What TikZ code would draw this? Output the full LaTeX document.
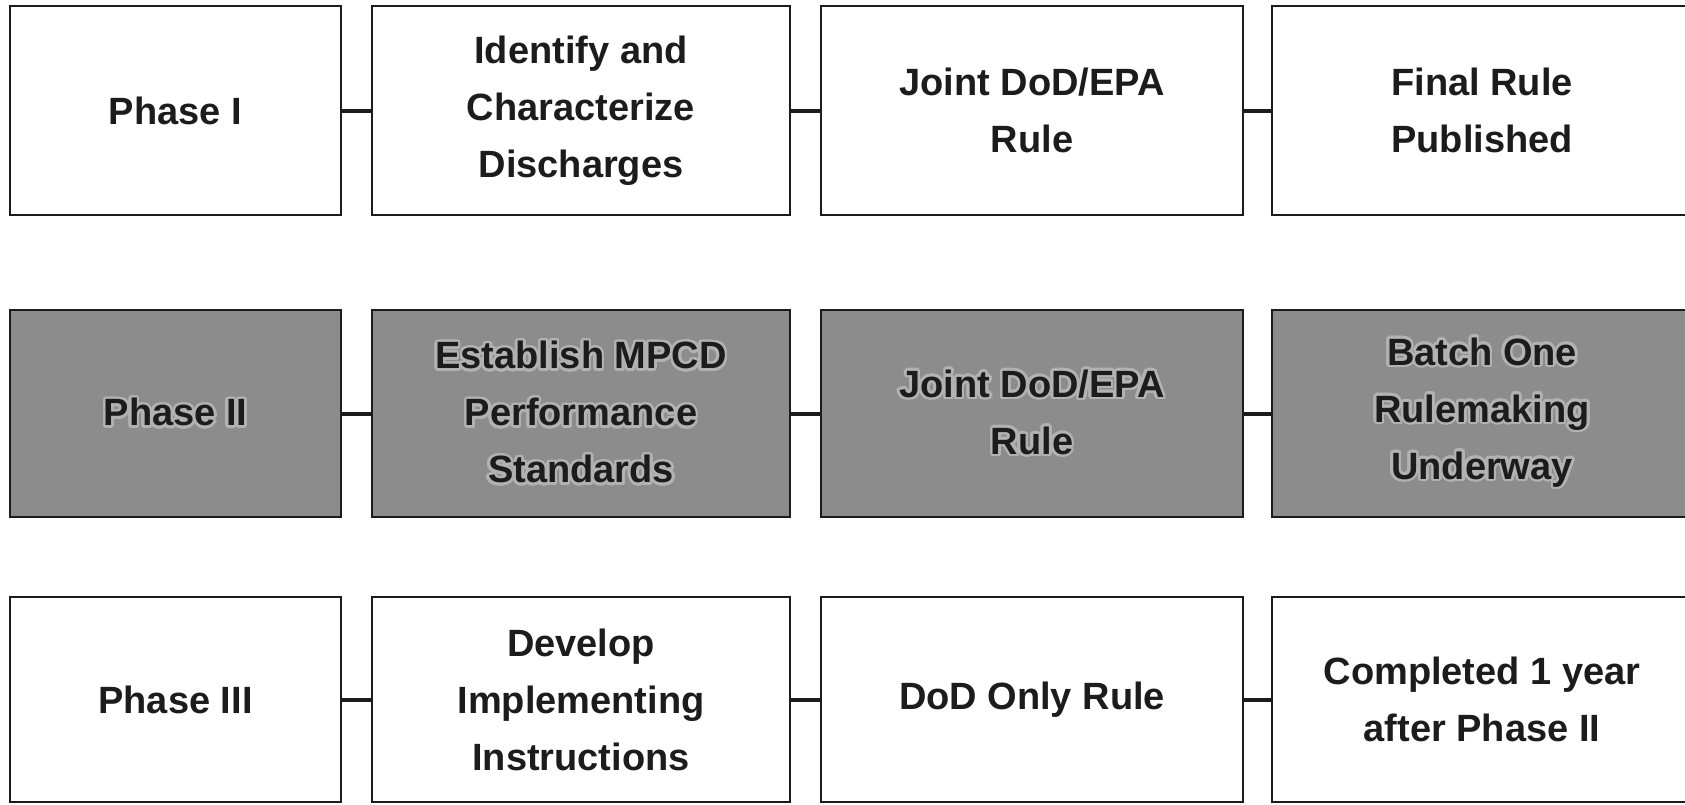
\documentclass[tikz,border=0pt]{standalone}
\usepackage{fontspec}
\setmainfont{Liberation Sans}
\usepackage[copies]{contour}
\contourlength{1.3pt}
\contournumber{24}
\definecolor{boxgray}{RGB}{140,140,140}
\definecolor{halo}{RGB}{178,178,178}
\definecolor{ink}{RGB}{28,28,28}
\begin{document}
\begin{tikzpicture}[x=0.5pt,y=-0.5pt,
  phbox/.style={draw=ink, line width=1.1pt, rectangle, outer sep=0pt, inner sep=0pt,
    align=center, text=ink, font=\fontsize{19}{28.5}\selectfont\bfseries},
  wbox/.style={phbox, fill=white},
  gbox/.style={phbox, fill=boxgray},
  link/.style={draw=ink, line width=2pt}]
\clip (0,0) rectangle (1685,804);
\fill[white] (0,0) rectangle (1685,804);
% row 1
\node[wbox, minimum width=165.5pt, minimum height=104.5pt] (a1) at (175.5,110.5) {Phase I};
\node[wbox, minimum width=209pt, minimum height=104.5pt] (a2) at (581,110.5) {Identify and\\Characterize\\Discharges};
\node[wbox, minimum width=211pt, minimum height=104.5pt] (a3) at (1032,110.5) {Joint DoD/EPA\\Rule};
\node[wbox, minimum width=210pt, minimum height=104.5pt] (a4) at (1482,110.5) {Final Rule\\Published};
% row 2
\node[gbox, minimum width=165.5pt, minimum height=103.5pt] (b1) at (175.5,413.5) {\contour{halo}{Phase II}};
\node[gbox, minimum width=209pt, minimum height=103.5pt] (b2) at (581,413.5) {\contour{halo}{Establish MPCD}\\\contour{halo}{Performance}\\\contour{halo}{Standards}};
\node[gbox, minimum width=211pt, minimum height=103.5pt] (b3) at (1032,413.5) {\contour{halo}{Joint DoD/EPA}\\\contour{halo}{Rule}};
\node[gbox, minimum width=210pt, minimum height=103.5pt] (b4) at (1482,413.5) {\contour{halo}{Batch One}\\\contour{halo}{Rulemaking}\\\contour{halo}{Underway}};
% row 3
\node[wbox, minimum width=165.5pt, minimum height=102.5pt] (c1) at (175.5,699.5) {Phase III};
\node[wbox, minimum width=209pt, minimum height=102.5pt] (c2) at (581,699.5) {Develop\\Implementing\\Instructions};
\node[wbox, minimum width=211pt, minimum height=102.5pt] (c3) at (1032,699.5) {DoD Only Rule};
\node[wbox, minimum width=210pt, minimum height=102.5pt] (c4) at (1482,699.5) {Completed 1 year\\after Phase II};
% connectors
\foreach \r in {a,b,c}{
  \draw[link] (\r1.east) -- (\r2.west);
  \draw[link] (\r2.east) -- (\r3.west);
  \draw[link] (\r3.east) -- (\r4.west);
}
\end{tikzpicture}
\end{document}
